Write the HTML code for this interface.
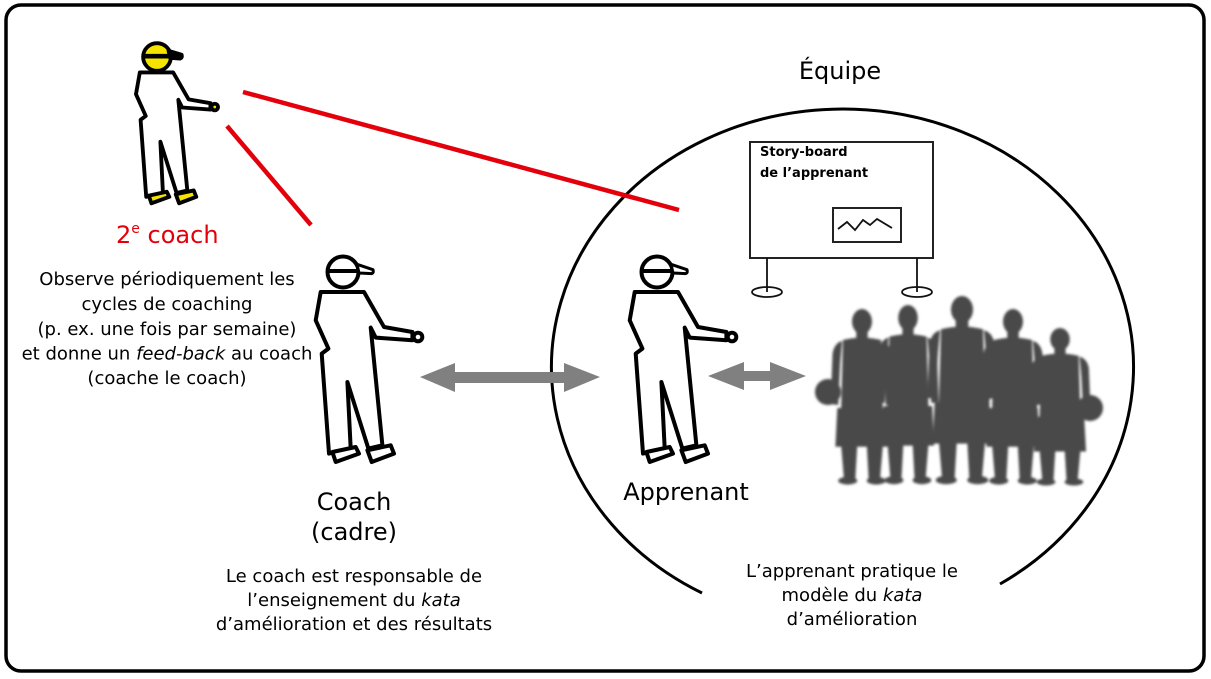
<!DOCTYPE html>
<html>
<head>
<meta charset="utf-8">
<style>
html,body{margin:0;padding:0;background:#fff;}
svg{display:block;}
text{font-family:"DejaVu Sans","Liberation Sans",sans-serif;fill:#000;}
</style>
</head>
<body>
<svg width="1211" height="679" viewBox="0 0 1211 679" xmlns="http://www.w3.org/2000/svg">
<defs>
  <filter id="bl" x="-10%" y="-10%" width="120%" height="120%">
    <feGaussianBlur stdDeviation="1.3"/>
  </filter>
  <g id="pl">
    <ellipse cx="0" cy="13" rx="10.5" ry="13"/>
    <rect x="-6" y="22" width="12" height="11"/>
    <path d="M-20,32 Q0,27 20,32 L22,104 L-22,104 Z"/>
    <path d="M-21,33 Q-29,35 -31,46 L-33,98 L-25,99 L-23,56 Z"/>
    <path d="M21,33 Q29,35 31,46 L33,98 L25,99 L23,56 Z"/>
    <path d="M-26,102 L26,102 L28,142 L-28,142 Z"/>
    <path d="M-22,140 L-5,140 L-7,175 L-19,175 Z"/>
    <path d="M5,140 L22,140 L19,175 L7,175 Z"/>
    <ellipse cx="-15" cy="177" rx="10" ry="4"/>
    <ellipse cx="15" cy="177" rx="10" ry="4"/>
  </g>
</defs>

<!-- frame -->
<rect x="6" y="5" width="1198" height="666" rx="15" ry="15" fill="#fff" stroke="#000" stroke-width="3.5"/>

<!-- big ellipse (Équipe) -->
<path d="M702,593 A291,258 0 1 1 1000,584" fill="none" stroke="#000" stroke-width="3"/>

<!-- red lines -->
<line x1="243" y1="92" x2="679" y2="210" stroke="#e3000b" stroke-width="4.5"/>
<line x1="227" y1="126" x2="311" y2="225" stroke="#e3000b" stroke-width="4.5"/>

<!-- grey double arrows -->
<polygon fill="#808080" points="420,377 455,363 455,372 564,372 564,363 600,377 564,392 564,383 455,383 455,392"/>
<polygon fill="#808080" points="708,376 744,362 744,371 770,371 770,362 806,376 770,390 770,381 744,381 744,390"/>

<!-- story board -->
<rect x="750" y="142" width="183" height="116" fill="#fff" stroke="#222" stroke-width="2"/>
<rect x="833" y="208" width="68" height="34" fill="#fff" stroke="#222" stroke-width="2"/>
<polyline points="838,229 847,222 855,230 863,220 870,225 877,219 892,228" fill="none" stroke="#111" stroke-width="1.8"/>
<line x1="767" y1="258" x2="767" y2="292" stroke="#111" stroke-width="1.8"/>
<line x1="917" y1="258" x2="917" y2="292" stroke="#111" stroke-width="1.8"/>
<ellipse cx="767" cy="292" rx="15" ry="5" fill="none" stroke="#111" stroke-width="1.8"/>
<ellipse cx="917" cy="292" rx="15" ry="5" fill="none" stroke="#111" stroke-width="1.8"/>
<text x="760" y="156" font-size="13" font-weight="bold">Story-board</text>
<text x="760" y="177" font-size="13" font-weight="bold">de l’apprenant</text>

<!-- team silhouettes -->
<g fill="#4a4a4a" filter="url(#bl)">
  <use href="#pl" transform="translate(862,309) scale(0.95,0.97)"/>
  <use href="#pl" transform="translate(908,305) scale(0.93,0.99)"/>
  <use href="#pl" transform="translate(962,296) scale(1.05,1.04)"/>
  <use href="#pl" transform="translate(1013,309) scale(0.95,0.97)"/>
  <use href="#pl" transform="translate(1060,328) scale(0.93,0.87)"/>
  <circle cx="828" cy="392" r="13"/>
  <circle cx="1090" cy="408" r="13"/>
</g>

<!-- 2nd coach figure -->
<g transform="translate(157,57) scale(0.77)" stroke="#000" stroke-width="5" stroke-linejoin="round">
  <path fill="#fff" d="M-22.3,20 L21,20 L41,55 L69.4,60 L69.4,68.3 L32.7,65.6 L27.7,55.6 L39.4,173.3 L25.4,176.6 L4.4,110 L7.7,176.6 L-14,181.6 L-21.3,81.6 L-14.6,76.6 L-27.3,48.3 Z"/>
  <circle cx="75" cy="65" r="4.3" fill="#f5e400"/>
  <path fill="#f5e400" d="M-10.6,180 L12.7,175 L16,181.6 L-7.3,190 Z"/>
  <path fill="#f5e400" d="M24.4,178.3 L47.7,173.3 L51,181.6 L28.7,190 Z"/>
  <circle cx="0" cy="0" r="18" fill="#f5e400"/>
  <line x1="-17" y1="-1" x2="17" y2="-1" stroke-width="6"/>
  <path fill="#000" d="M15,-8 L32,-3 Q33,1 30,2 L17,1 Z"/>
</g>

<!-- coach figure -->
<g transform="translate(343,272)" stroke="#000" stroke-width="4" stroke-linejoin="round">
  <path fill="#fff" d="M-22.3,20 L21,20 L41,55 L69.4,60 L69.4,68.3 L32.7,65.6 L27.7,55.6 L39.4,173.3 L25.4,176.6 L4.4,110 L7.7,176.6 L-14,181.6 L-21.3,81.6 L-14.6,76.6 L-27.3,48.3 Z"/>
  <circle cx="75" cy="65" r="4.3" fill="#fff"/>
  <path fill="#fff" d="M-10.6,180 L12.7,175 L16,181.6 L-7.3,190 Z"/>
  <path fill="#fff" d="M24.4,178.3 L47.7,173.3 L51,181.6 L28.7,190 Z"/>
  <circle cx="0" cy="0" r="15.5" fill="#fff"/>
  <line x1="-15" y1="-1" x2="15" y2="-1"/>
  <path fill="#fff" stroke-width="3" d="M14,-7.7 L30,-2.3 Q31,1 28.7,1.6 L16,1 Z"/>
</g>

<!-- apprenant figure -->
<g transform="translate(657,272)" stroke="#000" stroke-width="4" stroke-linejoin="round">
  <path fill="#fff" d="M-22.3,20 L21,20 L41,55 L69.4,60 L69.4,68.3 L32.7,65.6 L27.7,55.6 L39.4,173.3 L25.4,176.6 L4.4,110 L7.7,176.6 L-14,181.6 L-21.3,81.6 L-14.6,76.6 L-27.3,48.3 Z"/>
  <circle cx="75" cy="65" r="4.3" fill="#fff"/>
  <path fill="#fff" d="M-10.6,180 L12.7,175 L16,181.6 L-7.3,190 Z"/>
  <path fill="#fff" d="M24.4,178.3 L47.7,173.3 L51,181.6 L28.7,190 Z"/>
  <circle cx="0" cy="0" r="15.5" fill="#fff"/>
  <line x1="-15" y1="-1" x2="15" y2="-1"/>
  <path fill="#fff" stroke-width="3" d="M14,-7.7 L30,-2.3 Q31,1 28.7,1.6 L16,1 Z"/>
</g>

<!-- labels -->
<text x="116" y="243" font-size="24" style="fill:#e3000b">2<tspan font-size="14" dy="-10">e</tspan><tspan dy="10"> coach</tspan></text>

<g font-size="18" text-anchor="middle">
  <text x="167" y="285">Observe périodiquement les</text>
  <text x="167" y="310">cycles de coaching</text>
  <text x="167" y="335">(p. ex. une fois par semaine)</text>
  <text x="167" y="359.5">et donne un <tspan font-style="italic">feed-back</tspan> au coach</text>
  <text x="167" y="384">(coache le coach)</text>
</g>

<text x="354" y="510" font-size="24" text-anchor="middle">Coach</text>
<text x="354" y="540" font-size="24" text-anchor="middle">(cadre)</text>

<g font-size="18" text-anchor="middle">
  <text x="354" y="582">Le coach est responsable de</text>
  <text x="354" y="606">l’enseignement du <tspan font-style="italic">kata</tspan></text>
  <text x="354" y="630">d’amélioration et des résultats</text>
</g>

<text x="686" y="500" font-size="24" text-anchor="middle">Apprenant</text>
<text x="840" y="79" font-size="24" text-anchor="middle">Équipe</text>

<g font-size="18" text-anchor="middle">
  <text x="852" y="577">L’apprenant pratique le</text>
  <text x="852" y="601">modèle du <tspan font-style="italic">kata</tspan></text>
  <text x="852" y="625">d’amélioration</text>
</g>
</svg>
</body>
</html>
